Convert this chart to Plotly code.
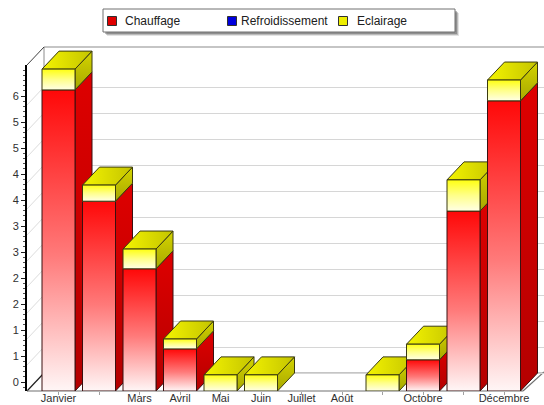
import plotly.graph_objects as go

# ---------------- data ----------------
months = ['Janvier', 'Février', 'Mars', 'Avril', 'Mai', 'Juin', 'Juillet',
          'Août', 'Septembre', 'Octobre', 'Novembre', 'Décembre']
shown_labels = ['Janvier', '', 'Mars', 'Avril', 'Mai', 'Juin', 'Juillet',
                'Août', '', 'Octobre', '', 'Décembre']
series_names = ['Chauffage', 'Refroidissement', 'Eclairage']
chauffage = [5.79, 3.65, 2.35, 0.81, 0, 0, 0, 0, 0, 0.60, 3.46, 5.58]
refroidissement = [0, 0, 0, 0, 0, 0, 0, 0, 0, 0, 0, 0]
eclairage = [0.40, 0.31, 0.38, 0.19, 0.31, 0.31, 0, 0, 0.31, 0.30, 0.60, 0.40]
y_tickvals = [0, 0.5, 1, 1.5, 2, 2.5, 3, 3.5, 4, 4.5, 5, 5.5]
y_ticktext = ['0', '1', '1', '2', '2', '3', '3', '4', '4', '5', '5', '6']

# ---------------- geometry (pixels) ----------------
W, H = 544, 405
PX_CAT = 40.5         # pixels per category
PX_UNIT = 52.0        # pixels per y unit
FRONT_FLOOR = 391
DEPTH_X, DEPTH_Y = 17, 18
LEFT = 27
BACK_LEFT = LEFT + DEPTH_X
TOP = 47
CAT0 = 58.5           # pixel centre of first category

def xp(px):
    return px / W

def yp(py):
    return 1 - py / H

dom_y = [yp(FRONT_FLOOR), yp(TOP)]
x2_range = [(LEFT - CAT0) / PX_CAT, (W - CAT0) / PX_CAT]
y2_range = [0, (FRONT_FLOOR - TOP) / PX_UNIT]
dx = DEPTH_X / PX_CAT
dy = DEPTH_Y / PX_UNIT
half = 16.5 / PX_CAT

styles = {
    'Chauffage': dict(
        front=[[0, '#fff6f6'], [0.45, '#ff7a7a'], [1, '#ff0808']],
        side=[[0, '#b40000'], [1, '#de0000']],
        top=[[0, '#ff3030'], [1, '#c00000']],
        edge='#3a1010', color='#e00000'),
    'Refroidissement': dict(
        front=[[0, '#f0f0ff'], [1, '#0000ff']],
        side=[[0, '#0000a0'], [1, '#0000d8']],
        top=[[0, '#3030ff'], [1, '#0000c0']],
        edge='#10103a', color='#0000dd'),
    'Eclairage': dict(
        front=[[0, '#ffffe6'], [0.5, '#ffff8a'], [1, '#ffff10']],
        side=[[0, '#a8a800'], [1, '#d4d400']],
        top=[[0, '#f4f400'], [1, '#c4c400']],
        edge='#3a3a10', color='#eeee00'),
}

fig = go.Figure()

# dummy trace so the back-wall grid subplot exists
fig.add_trace(go.Scatter(x=[None], y=[None], xaxis='x', yaxis='y',
                         showlegend=False, hoverinfo='skip'))

series = [('Chauffage', chauffage), ('Refroidissement', refroidissement),
          ('Eclairage', eclairage)]

def poly(xs, ys, grad, gtype, edge):
    fig.add_trace(go.Scatter(
        x=xs + [xs[0]], y=ys + [ys[0]], mode='lines', fill='toself',
        fillgradient=dict(type=gtype, colorscale=grad),
        line=dict(color=edge, width=1), xaxis='x2', yaxis='y2',
        showlegend=False, hoverinfo='skip'))

for i, m in enumerate(months):
    base = 0.0
    segs = []
    for name, vals in series:
        v = vals[i]
        if v > 0:
            segs.append((name, base, base + v))
            base += v
    for k, (name, y0, y1) in enumerate(segs):
        st = styles[name]
        xl, xr = i - half, i + half
        # side face
        poly([xr, xr + dx, xr + dx, xr], [y0, y0 + dy, y1 + dy, y1],
             st['side'], 'vertical', st['edge'])
        # top face (only topmost segment)
        if k == len(segs) - 1:
            poly([xl, xr, xr + dx, xl + dx], [y1, y1, y1 + dy, y1 + dy],
                 st['top'], 'horizontal', st['edge'])
        # front face
        poly([xl, xr, xr, xl], [y0, y0, y1, y1], st['front'], 'vertical',
             st['edge'])

fig.add_trace(go.Scatter(x=[None], y=[None], xaxis='x3', yaxis='y3',
                         showlegend=False, hoverinfo='skip'))

# ---------------- frame (walls & floor) ----------------
shapes = []
def line(x0, y0, x1, y1, color, width=1):
    shapes.append(dict(type='line', xref='paper', yref='paper',
                       x0=xp(x0), y0=yp(y0), x1=xp(x1), y1=yp(y1),
                       line=dict(color=color, width=width), layer='below'))

back_floor = FRONT_FLOOR - DEPTH_Y
for v in y_tickvals[1:]:
    line(LEFT, FRONT_FLOOR - PX_UNIT * v, BACK_LEFT, back_floor - PX_UNIT * v,
         '#dcdcdc', 1)
line(BACK_LEFT, back_floor, BACK_LEFT, TOP, '#8c8c8c', 1)
line(BACK_LEFT, TOP, W, TOP, '#8c8c8c', 1.2)
line(LEFT, TOP + DEPTH_Y, BACK_LEFT, TOP, '#404040', 1)
line(LEFT, FRONT_FLOOR, BACK_LEFT, back_floor, '#202020', 1.2)
line(LEFT, FRONT_FLOOR, 523, FRONT_FLOOR, '#707070', 1.2)
line(523, FRONT_FLOOR, W, FRONT_FLOOR - 19, '#707070', 1.2)
line(BACK_LEFT, back_floor, W, back_floor, '#8c8c8c', 1.2)

# ---------------- legend (drawn box) ----------------
box = (103, 9, 455, 32)
for off, op in [(4, 0.15), (3, 0.25), (2, 0.35)]:
    shapes.append(dict(type='rect', xref='paper', yref='paper',
                       x0=xp(box[0] + off), y0=yp(box[3] + off),
                       x1=xp(box[2] + off), y1=yp(box[1] + off),
                       line=dict(width=0), fillcolor='#404040', opacity=op,
                       layer='above'))
shapes.append(dict(type='rect', xref='paper', yref='paper',
                   x0=xp(box[0]), y0=yp(box[3]), x1=xp(box[2]), y1=yp(box[1]),
                   line=dict(color='#707070', width=1), fillcolor='white',
                   layer='above'))
annotations = []
sq_x = [112, 232, 343]
txt_x = [123, 239, 355]
for name, sx, tx in zip(series_names, sq_x, txt_x):
    shapes.append(dict(type='rect', xref='paper', yref='paper',
                       x0=xp(sx - 4.5), y0=yp(25.5), x1=xp(sx + 4.5), y1=yp(16.5),
                       line=dict(color='#303030', width=1),
                       fillcolor=styles[name]['color'], layer='above'))
    annotations.append(dict(xref='paper', yref='paper', x=xp(tx), y=yp(21),
                            xanchor='left', yanchor='middle', text=name,
                            showarrow=False,
                            font=dict(size=12, color='#202020',
                                      family='Liberation Sans, Arial')))

# ---------------- layout ----------------
label_top_val = (FRONT_FLOOR - DEPTH_Y / 2 - (TOP + DEPTH_Y)) / PX_UNIT
fig.update_layout(
    width=W, height=H,
    margin=dict(l=0, r=0, t=0, b=0),
    paper_bgcolor='white', plot_bgcolor='rgba(0,0,0,0)',
    showlegend=False,
    font=dict(family='Liberation Sans, Arial', size=11, color='#303030'),
    shapes=shapes, annotations=annotations,
    # grid subplot (back wall)
    xaxis=dict(domain=[xp(BACK_LEFT), 1], range=[0, 1], visible=False),
    yaxis=dict(domain=dom_y, anchor='x',
               range=[-DEPTH_Y / PX_UNIT, (back_floor - TOP) / PX_UNIT],
               tickvals=y_tickvals, showticklabels=False, ticks='',
               showgrid=True, gridcolor='#d6d6d6', gridwidth=1.3,
               zeroline=False, showline=False),
    # data subplot (front plane)
    xaxis2=dict(domain=[xp(LEFT), 1], range=x2_range, anchor='y2',
                tickvals=list(range(len(months))), ticktext=shown_labels,
                ticks='outside', ticklen=3, tickcolor='#a0a0a0',
                ticklabelstandoff=-6,
                showgrid=False, zeroline=False, showline=False,
                tickfont=dict(size=11, color='#303030')),
    yaxis2=dict(domain=dom_y, anchor='x2', range=y2_range, visible=False),
    # labelled value axis
    xaxis3=dict(domain=[xp(LEFT), 1], range=[0, 1], anchor='y3',
                visible=False),
    yaxis3=dict(domain=[yp(FRONT_FLOOR), yp(TOP + DEPTH_Y)], anchor='x3',
                range=[-(DEPTH_Y / 2) / PX_UNIT, label_top_val],
                tickvals=y_tickvals, ticktext=y_ticktext,
                ticks='outside', ticklen=4, tickcolor='#202020',
                showline=True, linecolor='black', linewidth=2,
                showgrid=False, zeroline=False,
                minor=dict(ticks='outside', ticklen=2, dtick=0.1,
                           tickcolor='#505050', showgrid=False),
                tickfont=dict(size=11, color='#303030')),
)

fig.write_html('out.html')
